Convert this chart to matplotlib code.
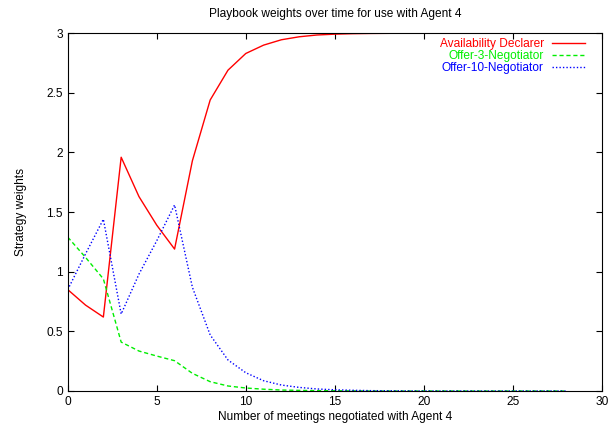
import numpy as np
import matplotlib
matplotlib.use("Agg")
import matplotlib.pyplot as plt
from matplotlib.ticker import FormatStrFormatter, MultipleLocator

plt.rcParams['font.family'] = ['Liberation Sans', 'DejaVu Sans']

# meetings 0..28
meetings = list(range(0, 29))

declarer = [0.85, 0.72, 0.62, 1.96, 1.63, 1.39, 1.19, 1.93, 2.44, 2.69,
            2.83, 2.90, 2.945, 2.97, 2.985, 2.992, 2.996, 2.998, 2.999, 3.0,
            3.0, 3.0, 3.0, 3.0, 3.0, 3.0, 3.0, 3.0, 3.0]
offer3 = [1.29, 1.12, 0.94, 0.41, 0.335, 0.293, 0.254, 0.148, 0.078, 0.042,
          0.025, 0.015, 0.008, 0.005, 0.003, 0.002, 0.001, 0.0, 0.0, 0.0,
          0.0, 0.0, 0.0, 0.0, 0.0, 0.0, 0.0, 0.0, 0.0]
offer10 = [0.85, 1.15, 1.44, 0.645, 0.98, 1.26, 1.56, 0.87, 0.47, 0.26,
           0.153, 0.086, 0.05, 0.03, 0.017, 0.01, 0.006, 0.003, 0.002, 0.001,
           0.0, 0.0, 0.0, 0.0, 0.0, 0.0, 0.0, 0.0, 0.0]

fs = 8.6

fig = plt.figure(figsize=(6.16, 4.29), dpi=100)
ax = fig.add_axes([0.110, 0.0886, 0.867, 0.834])

ax.plot(meetings, declarer, color='#ff0000', lw=1.0, label='Availability Declarer')
ax.plot(meetings, offer3, color='#00ee00', lw=1.0, linestyle=(0, (3, 2)), label='Offer-3-Negotiator')
ax.plot(meetings, offer10, color='#0000ff', lw=1.0, linestyle=(0, (1, 1.5)), label='Offer-10-Negotiator')

ax.set_xlim(0, 30)
ax.set_ylim(0, 3)
ax.xaxis.set_major_locator(MultipleLocator(5))
ax.yaxis.set_major_locator(MultipleLocator(0.5))
ax.yaxis.set_major_formatter(FormatStrFormatter('%g'))
ax.tick_params(direction='in', top=True, right=True, labelsize=fs, length=4.5, width=0.8)
for s in ax.spines.values():
    s.set_linewidth(0.8)

ax.set_title('Playbook weights over time for use with Agent 4', fontsize=fs, pad=12)
ax.set_xlabel('Number of meetings negotiated with Agent 4', fontsize=fs, labelpad=2)
ax.set_ylabel('Strategy weights', fontsize=fs, labelpad=14)

ax.legend(loc='upper right', frameon=False, markerfirst=False, fontsize=fs,
          labelcolor='linecolor', handlelength=2.8, handletextpad=0.7,
          labelspacing=0.02, borderaxespad=0.3, bbox_to_anchor=(0.985, 1.01))

fig.savefig('out.png', dpi=100)
